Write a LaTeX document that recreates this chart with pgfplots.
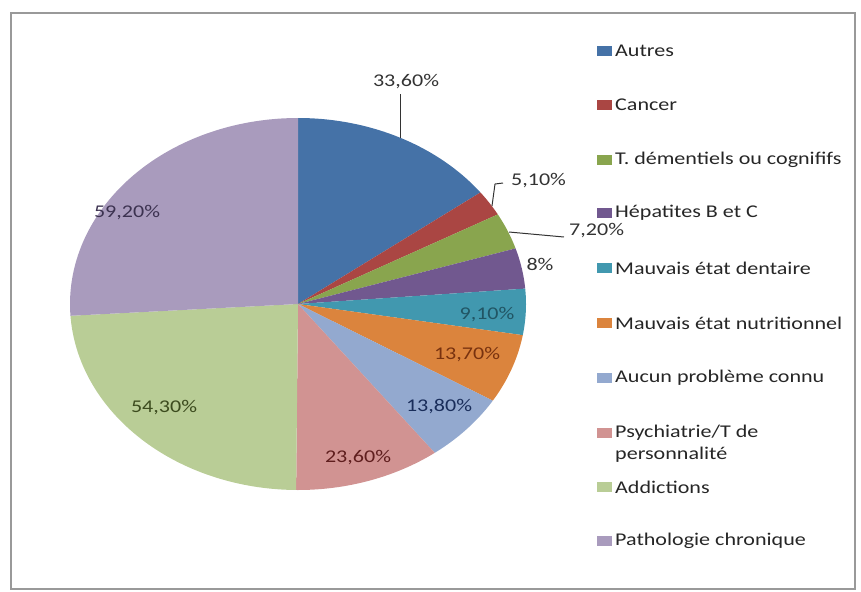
\documentclass[border=0pt]{standalone}
\usepackage{pgfplots}
\pgfplotsset{compat=1.18}
\usepackage{pgfplotstable}
\usepackage{fontspec}
\setmainfont{Carlito}
\definecolor{c1}{HTML}{4572A7}
\definecolor{c2}{HTML}{AA4643}
\definecolor{c3}{HTML}{89A54E}
\definecolor{c4}{HTML}{71588F}
\definecolor{c5}{HTML}{4198AF}
\definecolor{c6}{HTML}{DB843D}
\definecolor{c7}{HTML}{93A9CF}
\definecolor{c8}{HTML}{D19392}
\definecolor{c9}{HTML}{B9CD96}
\definecolor{c10}{HTML}{A99BBD}
\newcommand\sx[1]{\scalebox{1.23}[1]{#1}}
\newcommand\legitem[3]{%
  \fill[#2] (axis cs:597,#1-5) rectangle (axis cs:612,#1+5);
  \node[anchor=west, text=black!85, inner sep=0pt] at (axis cs:615,#1) {\sx{#3}};}
\pgfplotstableread{
value color
33.6 c1
5.1 c2
7.2 c3
8 c4
9.1 c5
13.7 c6
13.8 c7
23.6 c8
54.3 c9
59.2 c10
}\piedata
\begin{document}
\begin{tikzpicture}
\fontsize{18}{21}\selectfont
\def\total{0}
\pgfplotsforeachungrouped \i in {0,...,9}{%
  \pgfplotstablegetelem{\i}{value}\of\piedata
  \pgfmathsetmacro\total{\total+\pgfplotsretval}}
\useasboundingbox (0,0) rectangle (861bp,592bp);
\begin{axis}[at={(0,0)}, anchor=south west, width=861bp, height=592bp, scale only axis,
  xmin=0, xmax=861, ymin=0, ymax=592, y dir=reverse, hide axis, clip=false]
\def\cum{0}
\pgfplotsforeachungrouped \i in {0,...,9}{%
  \pgfplotstablegetelem{\i}{value}\of\piedata \let\sval\pgfplotsretval
  \pgfplotstablegetelem{\i}{color}\of\piedata \let\slicecol\pgfplotsretval
  \pgfmathsetmacro\aS{90-\cum/\total*360}%
  \pgfmathsetmacro\cum{\cum+\sval}%
  \pgfmathsetmacro\aE{90-\cum/\total*360}%
  \edef\tmp{\noexpand\addplot[fill=\slicecol, draw=none, domain=\aE:\aS, samples=90]
     ({298+228*cos(x)},{304-186*sin(x)}) -- (axis cs:298,304) -- cycle;}%
  \tmp
}
% leader lines
\addplot[black!80, line width=1pt] coordinates {(400,138) (400,94)};
\addplot[black!80, line width=1pt] coordinates {(492,206) (495,184) (503,183)};
\addplot[black!80, line width=1pt] coordinates {(509,232) (564,237)};
% data labels
\node[text=black!80] at (axis cs:406,82) {\sx{33,60\%}};
\node[text=black!80, anchor=west] at (axis cs:505,181) {\sx{5,10\%}};
\node[text=black!80, anchor=west] at (axis cs:563,231) {\sx{7,20\%}};
\node[text=black!80] at (axis cs:540,264) {\sx{8\%}};
\node[text={rgb,255:red,33;green,85;blue,100}] at (axis cs:487,315) {\sx{9,10\%}};
\node[text={rgb,255:red,120;green,50;blue,15}] at (axis cs:467,355) {\sx{13,70\%}};
\node[text={rgb,255:red,25;green,45;blue,90}] at (axis cs:439,407) {\sx{13,80\%}};
\node[text={rgb,255:red,95;green,30;blue,30}] at (axis cs:358,458) {\sx{23,60\%}};
\node[text={rgb,255:red,60;green,75;blue,30}] at (axis cs:164,408) {\sx{54,30\%}};
\node[text={rgb,255:red,60;green,50;blue,80}] at (axis cs:127,213) {\sx{59,20\%}};
% legend
\legitem{51}{c1}{Autres}
\legitem{105}{c2}{Cancer}
\legitem{160}{c3}{T. démentiels ou cognififs}
\legitem{213}{c4}{Hépatites B et C}
\legitem{268}{c5}{Mauvais état dentaire}
\legitem{323}{c6}{Mauvais état nutritionnel}
\legitem{378}{c7}{Aucun problème connu}
\legitem{433}{c8}{Psychiatrie/T de}
\legitem{487}{c9}{Addictions}
\legitem{541}{c10}{Pathologie chronique}
\node[anchor=west, text=black!85, inner sep=0pt] at (axis cs:615,455) {\sx{personnalité}};
% frame
\draw[black!40, line width=1.3bp] (axis cs:11,13) rectangle (axis cs:855,589);
\end{axis}
\end{tikzpicture}
\end{document}
